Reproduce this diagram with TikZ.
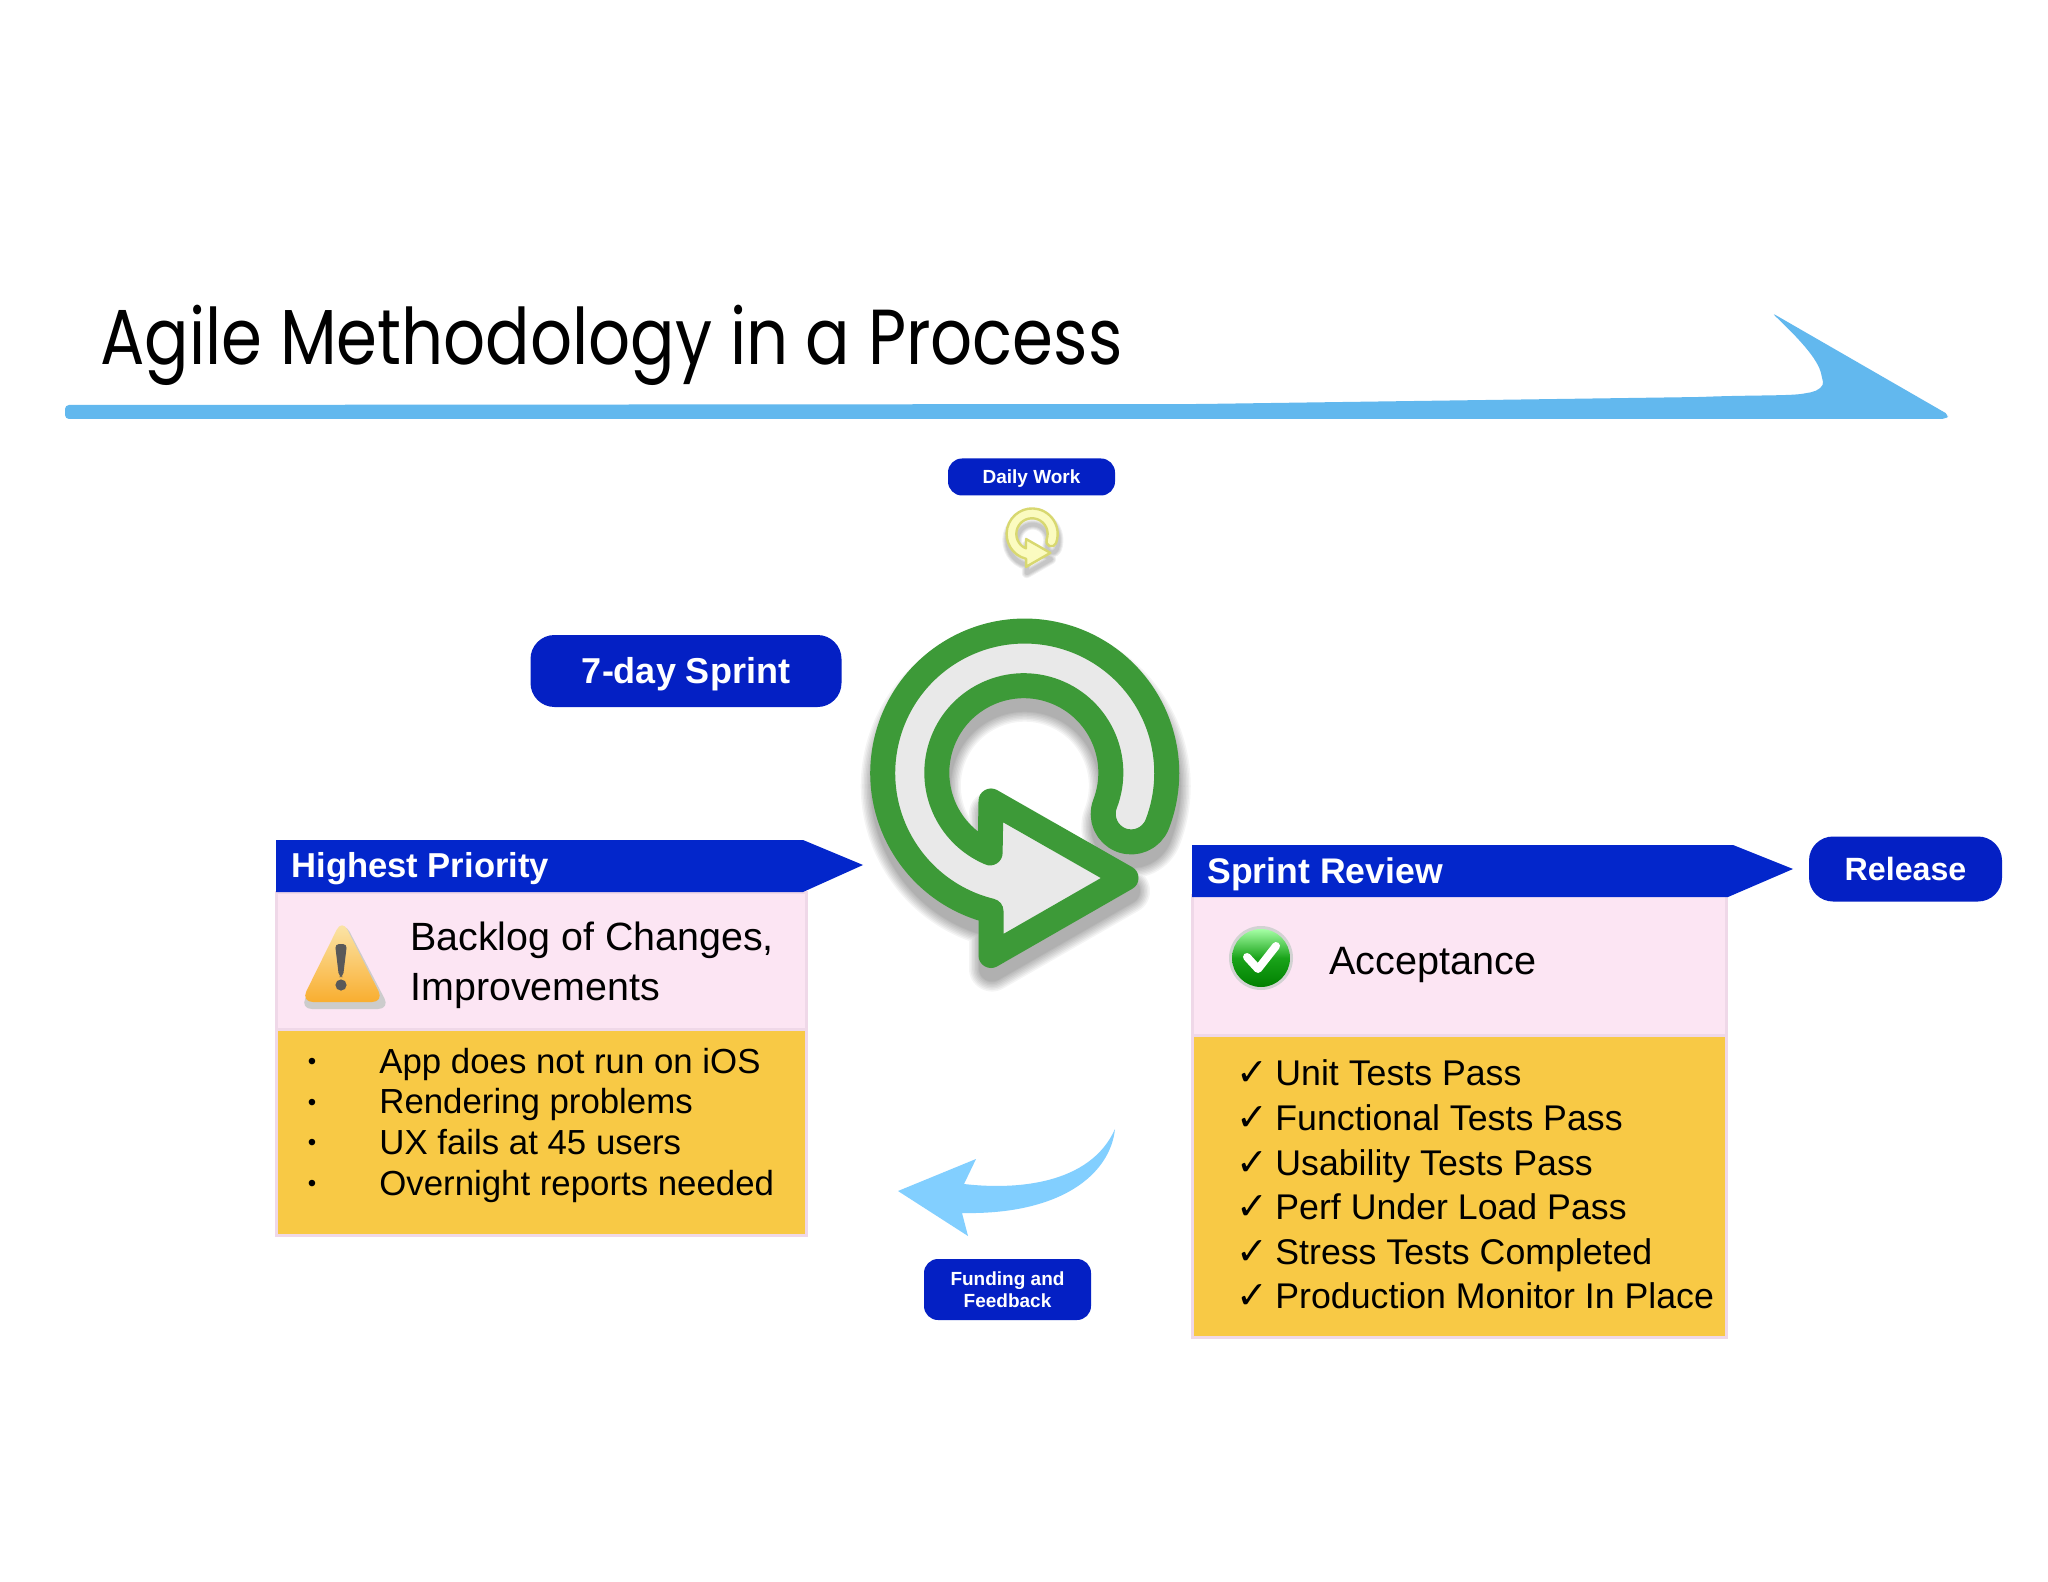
\documentclass[tikz,border=0pt]{standalone}
\usepackage{fontspec}
\usepackage{graphicx}
\setmainfont{Liberation Sans}
\newfontfamily\ttlfont{Poppins}
\newfontfamily\checkglyphfont{DejaVu Sans}
\newcommand\fsz[1]{\fontsize{#1}{#1}\selectfont}
\newcommand\looppath{(991,911) arc[start angle=256.25,end angle=-21,radius=71pt]
  arc[start angle=-21,end angle=-201,radius=14pt]
  arc[start angle=-21,end angle=247.2,radius=43.5pt]
  -- (991,801) -- (1126,878) -- (991,955.5) -- cycle}
\definecolor{hdrblue}{HTML}{0326CB}
\definecolor{pillblue}{HTML}{0420C4}
\definecolor{skyblue}{HTML}{62B8EE}
\definecolor{paleblue}{HTML}{82CFFF}
\definecolor{pinkfill}{HTML}{FCE5F3}
\definecolor{pinkedge}{HTML}{EFD8E8}
\definecolor{goldfill}{HTML}{F8C945}
\definecolor{loopgreen}{HTML}{3D9A38}
\definecolor{loopgrey}{HTML}{E9E9E9}
\definecolor{paleyellow}{HTML}{FBFBC0}
\definecolor{yellowedge}{HTML}{D8D870}
\definecolor{warntop}{HTML}{FBE8B0}
\definecolor{warnbot}{HTML}{F9AE30}
\tikzset{
  txt/.style={inner sep=0pt,anchor=base west,text=black},
  hdrtxt/.style={inner sep=0pt,anchor=base west,text=white,font=\bfseries\fsz{17.5}},
  listtxt/.style={inner sep=0pt,anchor=base west,text=black,font=\fsz{17.4}},
  bullettxt/.style={inner sep=0pt,anchor=base,text=black,font=\fsz{12}},
  checktxt/.style={inner sep=0pt,anchor=base west,text=black,font=\fsz{17.85}},
  checkmark/.style={inner sep=0pt,anchor=base west,text=black,font=\checkglyphfont\fsz{19}},
  pill/.style={fill=pillblue,text=white,font=\bfseries,inner sep=0pt,align=center},
  panel/.style={draw=pinkedge,line width=1.5pt},
}
\begin{document}
\begin{tikzpicture}[x=0.5pt,y=-0.5pt]
\useasboundingbox (0,0) rectangle (2048,1582);
\fill[white] (0,0) rectangle (2048,1582);

% title and top arrow
\node[txt] (title) at (100,365) {\resizebox{511pt}{\height}{\ttlfont\fsz{39}Agile Methodology in a Process}};
\fill[skyblue,rounded corners=2pt] (65,405) -- (1200,404) -- (1700,397)
  .. controls (1750,395) and (1790,396) .. (1807,393)
  .. controls (1818,391) and (1824,386) .. (1822,378)
  .. controls (1818,358) and (1795,335) .. (1772,313)
  -- (1949,415) -- (1946,419) -- (65,419) -- cycle;

% daily work
\node[pill,rounded corners=7pt,minimum width=83.5pt,minimum height=18.5pt,font=\bfseries\fsz{9.5}] (daily) at (1031.5,477) {\raisebox{-3.2pt}[0pt][0pt]{Daily Work}};

% small loop
\begin{scope}[shift={(1032,537.5)},scale=.18,shift={(-1024,-792.5)}]
  \foreach \w in {5,4,3,2}{
    \draw[black,opacity=.06,line width=\w pt,line join=round,shift={(4,35)}] \looppath;
  }
  \draw[draw=yellowedge,fill=paleyellow,line width=1.2pt,line join=round] \looppath;
\end{scope}

% 7-day sprint
\node[pill,rounded corners=12pt,minimum width=155.5pt,minimum height=36pt,font=\bfseries\fsz{18}] (sprint) at (686,671) {\raisebox{-6pt}[0pt][0pt]{7-day Sprint}};

% big loop
\foreach \w in {23,21.5,20,18.5,17,15.5,14,13}{
  \draw[black,opacity=.045,line width=\w pt,line join=round,shift={(1,13)}] \looppath;
}
\draw[draw=loopgreen,fill=loopgrey,line width=12.5pt,line join=round] \looppath;

% left panel
\fill[panel,fill=pinkfill] (276,892) rectangle (806,1029);
\fill[panel,fill=goldfill] (276,1029) rectangle (806,1235);
\draw[panel] (276,892) rectangle (806,1235);
\draw[panel] (276,1029) -- (806,1029);
\fill[hdrblue] (276,840) -- (803,840) -- (863,865) -- (803,892) -- (276,892) -- cycle;
\node[hdrtxt,font=\bfseries\fsz{17.3}] (hp) at (291,877) {Highest Priority};
% warning icon
\fill[gray!40,rounded corners=6pt] (344,921) -- (390,1009) -- (300,1009) -- cycle;
\shade[top color=warntop,bottom color=warnbot,rounded corners=6pt] (342,919) -- (384,1002) -- (301,1002) -- cycle;
\fill[black!65,rounded corners=2pt] (335,944) -- (347,944) -- (343,977) -- (339,977) -- cycle;
\fill[black!65] (341,985) circle (2.8pt);
\node[txt,font=\fsz{19.7}] (bk1) at (410,950) {Backlog of Changes,};
\node[txt,font=\fsz{19.7}] (bk2) at (410,1000) {Improvements};
\node[bullettxt] (b1) at (312,1069) {•};
\node[bullettxt] (b2) at (312,1110) {•};
\node[bullettxt] (b3) at (312,1150) {•};
\node[bullettxt] (b4) at (312,1191) {•};
\node[listtxt] (l1) at (379,1073) {App does not run on iOS};
\node[listtxt] (l2) at (379,1113) {Rendering problems};
\node[listtxt] (l3) at (379,1154) {UX fails at 45 users};
\node[listtxt] (l4) at (379,1195) {Overnight reports needed};

% return arrow
\fill[paleblue] (898,1191) -- (976,1159) -- (964,1184)
  .. controls (1015,1190) and (1090,1185) .. (1115,1129)
  .. controls (1110,1175) and (1060,1215) .. (962,1213)
  -- (968,1236) -- cycle;
\node[pill,rounded corners=7pt,minimum width=83.5pt,minimum height=30.5pt,font=\bfseries\fontsize{9.5}{11}\selectfont] (fund) at (1007.5,1289.5) {Funding and\\Feedback};

% right panel
\fill[panel,fill=pinkfill] (1192,895) rectangle (1726,1035);
\fill[panel,fill=goldfill] (1192,1035) rectangle (1726,1337);
\draw[panel] (1192,895) rectangle (1726,1337);
\draw[panel] (1192,1035) -- (1726,1035);
\fill[hdrblue] (1192,845) -- (1733,845) -- (1793,869) -- (1728,897) -- (1192,897) -- cycle;
\node[hdrtxt,font=\bfseries\fsz{17.8}] (sr) at (1207,883) {Sprint Review};
% check icon
\fill[gray!35] (1261,958) circle (16pt);
\shade[top color=green!35!white,bottom color=green!50!black,middle color=green!60!black!90!white] (1261,958) circle (14.5pt);
\draw[white,line width=4pt,line cap=round,line join=round] (1247,957) -- (1258,969) -- (1276,946);
\node[txt,font=\fsz{19.8}] (acc) at (1329,974) {Acceptance};
\node[checkmark] (c1) at (1236,1085) {✓};
\node[checkmark] (c2) at (1236,1130) {✓};
\node[checkmark] (c3) at (1236,1175) {✓};
\node[checkmark] (c4) at (1236,1219) {✓};
\node[checkmark] (c5) at (1236,1264) {✓};
\node[checkmark] (c6) at (1236,1308) {✓};
\node[checktxt] (t1) at (1275,1085) {Unit Tests Pass};
\node[checktxt] (t2) at (1275,1130) {Functional Tests Pass};
\node[checktxt] (t3) at (1275,1175) {Usability Tests Pass};
\node[checktxt] (t4) at (1275,1219) {Perf Under Load Pass};
\node[checktxt] (t5) at (1275,1264) {Stress Tests Completed};
\node[checktxt] (t6) at (1275,1308) {Production Monitor In Place};

% release
\node[pill,rounded corners=12pt,minimum width=96.5pt,minimum height=32.5pt,font=\bfseries\fsz{16.1}] (release) at (1905.5,869) {Release};
\end{tikzpicture}
\end{document}
